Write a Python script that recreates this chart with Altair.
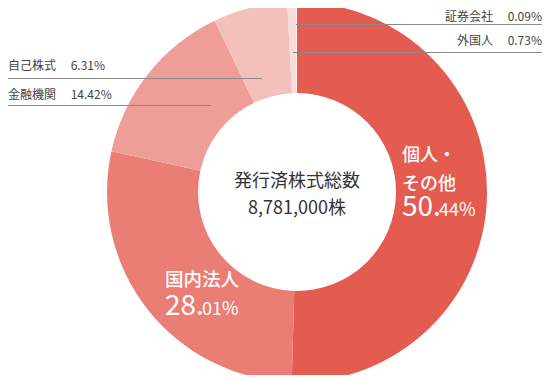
import altair as alt
import pandas as pd

categories = ["個人・その他", "国内法人", "金融機関", "自己株式", "外国人", "証券会社"]
shares = [50.44, 28.01, 14.42, 6.31, 0.73, 0.09]
colors = ["#E45B4F", "#EA7D74", "#EF9E97", "#F4C0BB", "#F9DCD9", "#FEF4F3"]
total_label = ["発行済株式総数", "8,781,000株"]

df = pd.DataFrame({"cat": categories, "share": shares, "order": list(range(len(categories)))})

W, H = 534, 367

def pxx(v):
    return min(max(v - 8, 0), W)
def pxy(v):
    return v - 8

FONT = "Noto Sans CJK JP"
CX, CY = 297, 192

base = alt.Chart(df)
donut = base.mark_arc(outerRadius=190, innerRadius=99).encode(
    theta=alt.Theta("share:Q", stack=True),
    order=alt.Order("order:Q"),
    color=alt.Color("cat:N", scale=alt.Scale(domain=categories, range=colors), legend=None),
    x=alt.value(pxx(CX)),
    y=alt.value(pxy(CY)),
)

def txt(text, x, y, size, color="#333333", align="left", weight="normal", baseline="middle", font=FONT):
    return alt.Chart(pd.DataFrame({"t": [text]})).mark_text(
        align=align, baseline=baseline, fontSize=size, font=font, color=color, fontWeight=weight
    ).encode(text="t:N", x=alt.value(pxx(x)), y=alt.value(pxy(y)))

def rule(x1, x2, y):
    return alt.Chart(pd.DataFrame({"a": [0]})).mark_rule(color="#8a8a8a", strokeWidth=1).encode(
        x=alt.value(pxx(x1)), x2=alt.value(pxx(x2)), y=alt.value(pxy(y))
    )

def pct(v):
    return f"{v:.2f}%"

layers = [donut]
# right small labels
layers.append(txt(f"{categories[5]}　 {pct(shares[5])}", 542, 16.5, 12, align="right", color="#444444"))
layers.append(rule(296, 548, 24.5))
layers.append(txt(f"{categories[4]}　 {pct(shares[4])}", 542, 41, 12, align="right", color="#444444"))
layers.append(rule(293, 548, 52.5))
# left small labels
layers.append(txt(f"{categories[3]}　 {pct(shares[3])}", 8, 66, 12, color="#444444"))
layers.append(rule(0, 262, 78.5))
layers.append(txt(f"{categories[2]}　 {pct(shares[2])}", 8, 94.5, 12, color="#444444"))
layers.append(rule(0, 211, 105.5))
# center
layers.append(txt(total_label[0], CX, 182, 18, align="center"))
layers.append(txt(total_label[1], CX, 209, 18, align="center"))
# big labels
s0 = f"{shares[0]:.2f}".split(".")
layers.append(txt("個人・", 402, 156, 18, color="white", weight=500))
layers.append(txt("その他", 402, 185, 18, color="white", weight=500))
layers.append(txt(s0[0] + ".", 402, 216, 28, color="white", baseline="alphabetic"))
layers.append(txt(s0[1] + "%", 439, 216, 18, color="white", baseline="alphabetic"))
s1 = f"{shares[1]:.2f}".split(".")
layers.append(txt("国内法人", 165, 280, 18.5, color="white", weight=500))
layers.append(txt(s1[0] + ".", 165, 315, 28, color="white", baseline="alphabetic"))
layers.append(txt(s1[1] + "%", 202, 315, 18, color="white", baseline="alphabetic"))

chart = alt.layer(*layers).properties(
    width=W, height=H, autosize=alt.AutoSizeParams(type="none"), padding=0
).configure_view(stroke=None)

chart.save("out.html", embed_options={"renderer": "svg", "actions": False})
